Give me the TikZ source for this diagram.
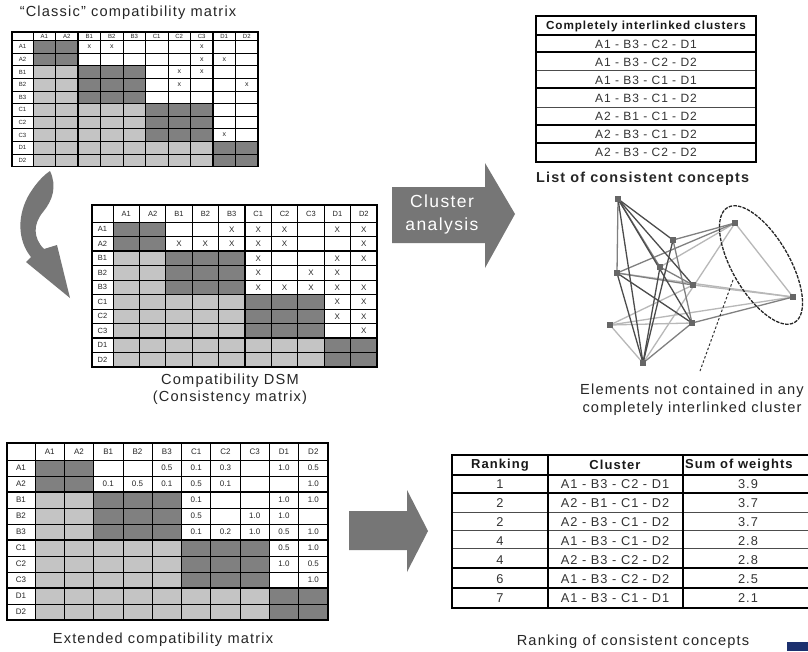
\documentclass[tikz,border=0pt]{standalone}
\usepackage{fontspec}
\setmainfont{Liberation Sans}
\newfontfamily\widefont[LetterSpace=8,Ligatures=TeX]{Liberation Sans}
\usetikzlibrary{shapes.geometric}

\definecolor{cdark}{RGB}{128,128,128}
\definecolor{clight}{RGB}{196,196,196}
\definecolor{carrow}{RGB}{118,118,118}
\definecolor{clogo}{RGB}{28,48,110}

% geometry of the matrix being drawn: left, top, label width, cell width, header height, row height
\newcommand\matsetup[6]{\def\mL{#1}\def\mT{#2}\def\mLW{#3}\def\mW{#4}\def\mHH{#5}\def\mH{#6}}
\def\grpcells{1/1,2/1,3/2,4/2,5/2,6/3,7/3,8/3,9/4,10/4}
\def\lablist{1/A1,2/A2,3/B1,4/B2,5/B3,6/C1,7/C2,8/C3,9/D1,10/D2}

% shaded cells, grid and labels of a 10x10 compatibility matrix
\newcommand\drawmat[2]{%
  \foreach \i/\gi in \grpcells {
    \foreach \j/\gj in \grpcells {
      \ifnum\gi=\gj \def\cc{cdark}\else\ifnum\gi>\gj \def\cc{clight}\else\def\cc{white}\fi\fi
      \fill[\cc] ({\mL+\mLW+(\j-1)*\mW},{\mT+\mHH+(\i-1)*\mH}) rectangle ++(\mW,\mH);
    }
  }
  \foreach \k in {0,...,10} {
    \draw[gridline] ({\mL+\mLW+\k*\mW},\mT) -- ++(0,{\mHH+10*\mH});
    \draw[gridline] (\mL,{\mT+\mHH+\k*\mH}) -- ++({\mLW+10*\mW},0);
  }
  \foreach \k in {2,5,8} {
    \draw[grpline] ({\mL+\mLW+\k*\mW},\mT) -- ++(0,{\mHH+10*\mH});
    \draw[grpline] (\mL,{\mT+\mHH+\k*\mH}) -- ++({\mLW+10*\mW},0);
  }
  \draw[grpline] (\mL,\mT) rectangle ++({\mLW+10*\mW},{\mHH+10*\mH});
  \foreach \k/\t in \lablist {
    \node[lbl,font=#2] (#1-c\k) at ({\mL+\mLW+(\k-0.5)*\mW},{\mT+0.5*\mHH}) {\t};
    \node[lbl,font=#2] (#1-r\k) at ({\mL+0.5*\mLW},{\mT+\mHH+(\k-0.5)*\mH}) {\t};
  }
}

\begin{document}
\begin{tikzpicture}[x=1pt,y=-1pt,
  gridline/.style={line width=0.7pt,black},
  grpline/.style={line width=1.2pt,black},
  lbl/.style={inner sep=0pt,text=black!85},
  captext/.style={inner sep=0pt,text=black!85,font=\widefont\fontsize{14.6}{18}\selectfont},
  tabtxt/.style={inner sep=0pt,text=black!80,font=\widefont\fontsize{12}{13}\selectfont},
  tabhead/.style={inner sep=0pt,text=black!90,font=\widefont\bfseries\fontsize{11.7}{13}\selectfont},
  rtxt/.style={inner sep=0pt,text=black!80,font=\widefont\fontsize{12.8}{14}\selectfont},
  rhead/.style={inner sep=0pt,text=black!90,font=\widefont\bfseries\fontsize{13}{14}\selectfont},
  tline/.style={line width=0.6pt,black!70},
  tthick/.style={line width=1.2pt,black},
  gnode/.style={rectangle,inner sep=0pt,minimum size=5pt,fill=#1},
  edark/.style={draw=black!70,line width=1.3pt},
  emid/.style={draw=black!50,line width=1.3pt},
  elight/.style={draw=black!28,line width=1.3pt}]

\useasboundingbox (0,0) rectangle (808,651);
\fill[white] (0,0) rectangle (808,651);

% ---------- "Classic" compatibility matrix ----------
\node[captext] (ttl1) at (128,13) {“Classic” compatibility matrix};
\matsetup{12}{32}{21}{22.5}{8.5}{12.6}
\drawmat{cm}{\fontsize{6}{7}\selectfont}
\foreach \i/\j in {1/3,1/4,1/8,2/8,2/9,3/7,3/8,4/7,4/10,8/9}
  \node[lbl,font=\fontsize{7}{8}\selectfont] (cm-x\i-\j) at ({\mL+\mLW+(\j-0.5)*\mW},{\mT+\mHH+(\i-0.5)*\mH}) {x};

% ---------- curved arrow ----------
\fill[carrow] (50,171) .. controls (57,186) and (53,200) .. (43,212)
  .. controls (33,224) and (33,238) .. (44,249)
  -- (57,245) -- (70,298) -- (26,262) -- (31,257)
  .. controls (17,240) and (17,214) .. (30,193)
  .. controls (37,182) and (44,175) .. (50,171) -- cycle;

% ---------- compatibility DSM ----------
\matsetup{92}{205}{21}{26.4}{17}{14.5}
\drawmat{dsm}{\fontsize{7.5}{8}\selectfont}
\foreach \i/\j in {1/5,1/6,1/7,1/9,1/10,2/3,2/4,2/5,2/6,2/7,2/10,3/6,3/9,3/10,4/6,4/8,4/9,
                   5/6,5/7,5/8,5/9,5/10,6/9,6/10,7/9,7/10,8/10}
  \node[lbl,font=\fontsize{8}{9}\selectfont] (dsm-x\i-\j) at ({\mL+\mLW+(\j-0.5)*\mW},{\mT+\mHH+(\i-0.5)*\mH}) {X};
\node[captext] (cap2a) at (230,381) {Compatibility DSM};
\node[captext] (cap2b) at (230,398) {(Consistency matrix)};

% ---------- cluster analysis arrow ----------
\fill[carrow] (392,187) -- (485,187) -- (485,163) -- (515,214) -- (485,268) -- (485,243) -- (392,243) -- cycle;
\node[inner sep=0pt,text=white,align=center,font=\widefont\fontsize{17.5}{23}\selectfont] (clus) at (442,214) {Cluster\\analysis};

% ---------- completely interlinked clusters ----------
\fill[white] (536,16) rectangle (756,162);
\foreach \y in {52,70,88,107,125,143} \draw[tline] (536,\y) -- (756,\y);
\foreach \y in {35,52,88,125,143} \draw[tthick] (536,\y) -- (756,\y);
\draw[tthick] (536,16) rectangle (756,162);
\node[tabhead] (lh) at (646,26) {Completely interlinked clusters};
\foreach \k/\t in {1/A1 - B3 - C2 - D1,2/A1 - B3 - C2 - D2,3/A1 - B3 - C1 - D1,4/A1 - B3 - C1 - D2,
                   5/A2 - B1 - C1 - D2,6/A2 - B3 - C1 - D2,7/A2 - B3 - C2 - D2}
  \node[tabtxt] (l\k) at (646,{35+(\k-0.5)*18.1}) {\t};
\node[inner sep=0pt,anchor=west,text=black!85,font=\widefont\bfseries\fontsize{14.4}{16}\selectfont] (lcap) at (536,179) {List of consistent concepts};

% ---------- graph of elements ----------
\node[gnode=black!70] (g1) at (618,199) {};
\node[gnode=black!30] (g2) at (735,223) {};
\node[gnode=black!25] (g3) at (793,297) {};
\node[gnode=black!50] (g4) at (617,273) {};
\node[gnode=black!20] (g5) at (610,325) {};
\node[gnode=black!75] (g6) at (643,363) {};
\node[gnode=black!25] (g7) at (673,240) {};
\node[gnode=black!25] (g8) at (693,285) {};
\node[gnode=black!25] (g9) at (692,323) {};
\node[gnode=black!35] (g10) at (660,267) {};
\draw[elight] (g4) -- (g3);  \draw[elight] (g8) -- (g3);  \draw[elight] (g5) -- (g3);
\draw[elight] (g5) -- (g6);  \draw[elight] (g5) -- (g9);  \draw[elight] (g5) -- (g8);
\draw[elight] (g2) -- (g3);  \draw[elight] (g10) -- (g2); \draw[elight] (g6) -- (g2);
\draw[emid] (g1) -- (g4);    \draw[emid] (g7) -- (g2);    \draw[emid] (g4) -- (g2);
\draw[emid] (g9) -- (g3);    \draw[emid] (g6) -- (g9);    \draw[emid] (g1) -- (g10);
\draw[emid] (g7) -- (g9);    \draw[emid] (g10) -- (g8);   \draw[emid] (g4) -- (g8);
\draw[edark] (g1) -- (g7);   \draw[edark] (g1) -- (g8);   \draw[edark] (g1) -- (g9);
\draw[edark] (g1) -- (g6);   \draw[edark] (g4) -- (g9);   \draw[edark] (g4) -- (g6);
\draw[edark] (g6) -- (g7);   \draw[edark] (g6) -- (g10);
\foreach \n in {g1,g2,g3,g4,g5,g6,g7,g8,g9,g10} \fill[black!60] (\n.south west) rectangle (\n.north east);
\node[draw=black!85,line width=1.3pt,dashed,dash pattern=on 3.5pt off 1.2pt,ellipse,rotate=-59.8,
      minimum width=133pt,minimum height=57pt,inner sep=0pt] (ell) at (761,265) {};
\coordinate (dtop) at (733,280);
\coordinate (dbot) at (700,371);
\draw[black!80,line width=1pt,dashed,dash pattern=on 2.5pt off 2pt] (dtop) -- (dbot);
\node[captext,align=center] (gcap) at (692,400)
  {Elements not contained in any\\completely interlinked cluster};

% ---------- extended compatibility matrix ----------
\matsetup{7}{443}{28}{29.3}{17}{16}
\drawmat{ext}{\fontsize{8}{9}\selectfont}
\foreach \i/\j/\t in {1/5/0.5,1/6/0.1,1/7/0.3,1/9/1.0,1/10/0.5,
                      2/3/0.1,2/4/0.5,2/5/0.1,2/6/0.5,2/7/0.1,2/10/1.0,
                      3/6/0.1,3/9/1.0,3/10/1.0,4/6/0.5,4/8/1.0,4/9/1.0,
                      5/6/0.1,5/7/0.2,5/8/1.0,5/9/0.5,5/10/1.0,
                      6/9/0.5,6/10/1.0,7/9/1.0,7/10/0.5,8/10/1.0}
  \node[lbl,font=\fontsize{8}{9}\selectfont] (ext-x\i-\j) at ({\mL+\mLW+(\j-0.5)*\mW},{\mT+\mHH+(\i-0.5)*\mH}) {\t};
\node[captext] (cap3) at (163,640) {Extended compatibility matrix};

% ---------- arrow to ranking ----------
\fill[carrow] (349,511) -- (407,511) -- (407,490) -- (428,531) -- (407,572) -- (407,550) -- (349,550) -- cycle;

% ---------- ranking of consistent concepts ----------
\fill[white] (452,455) rectangle (812,608);
\foreach \y in {493,512,530,548,568,588} \draw[tline] (452,\y) -- (812,\y);
\foreach \y in {475,493,568,588} \draw[tthick] (452,\y) -- (812,\y);
\draw[tthick] (452,455) rectangle (812,608);
\draw[tthick] (548,455) -- (548,608);
\draw[tthick] (683,455) -- (683,608);
\node[rhead] (rh1) at (500,465) {Ranking};
\node[rhead] (rh2) at (615,465) {Cluster};
\node[rhead,anchor=west] (rh3) at (685,465) {Sum of weights};
\foreach \k/\r/\c/\s in {1/1/A1 - B3 - C2 - D1/3.9,2/2/A2 - B1 - C1 - D2/3.7,3/2/A2 - B3 - C1 - D2/3.7,
                         4/4/A1 - B3 - C1 - D2/2.8,5/4/A2 - B3 - C2 - D2/2.8,6/6/A1 - B3 - C2 - D2/2.5,
                         7/7/A1 - B3 - C1 - D1/2.1} {
  \node[rtxt] (rr\k) at (500,{475+(\k-0.5)*19}) {\r};
  \node[rtxt] (rc\k) at (615,{475+(\k-0.5)*19}) {\c};
  \node[rtxt] (rs\k) at (748,{475+(\k-0.5)*19}) {\s};
}
\node[captext] (cap4) at (633,642) {Ranking of consistent concepts};

% ---------- logo corner ----------
\fill[clogo] (787,642) rectangle (808,651);
\end{tikzpicture}
\end{document}
